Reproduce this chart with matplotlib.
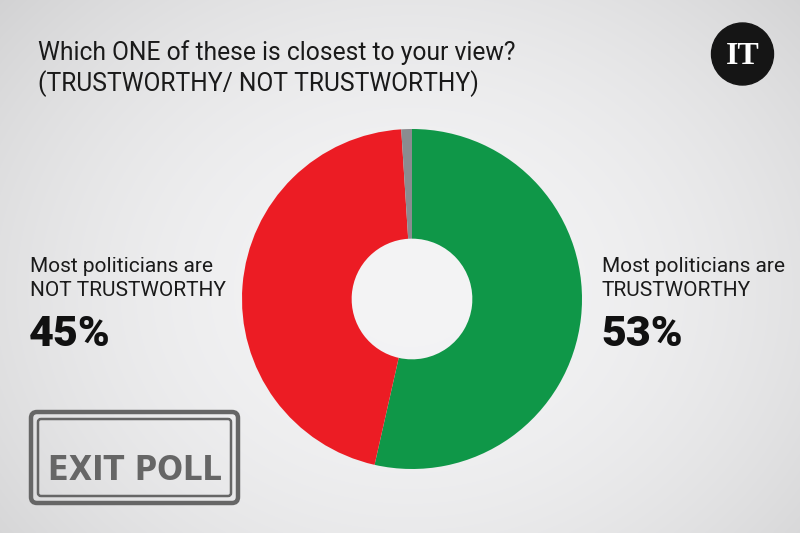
import matplotlib.pyplot as plt
import numpy as np
from matplotlib import font_manager
from matplotlib.font_manager import FontProperties
from matplotlib.patches import Circle, FancyBboxPatch

# poll values, clockwise from 12 o'clock
labels = ['TRUSTWORTHY', 'NOT TRUSTWORTHY', "Don't know"]
values = [53, 45, 1]
colors = ['#0f9748', '#ec1c24', '#8a8c90']

title = 'Which ONE of these is closest to your view?\n(TRUSTWORTHY/ NOT TRUSTWORTHY)'
left_text = 'Most politicians are\nNOT TRUSTWORTHY'
right_text = 'Most politicians are\nTRUSTWORTHY'
left_pct = '45%'
right_pct = '53%'

W, H = 800, 533
fig = plt.figure(figsize=(8, 5.33), dpi=100)

# background axes in pixel coordinates (y down)
bg = fig.add_axes([0, 0, 1, 1])
bg.set_xlim(0, W)
bg.set_ylim(H, 0)
bg.axis('off')

xx, yy = np.meshgrid(np.arange(W), np.arange(H))
r2 = ((xx - 410) / 520.0) ** 2 + ((yy - 290) / 430.0) ** 2
shade = np.clip(0.955 - 0.12 * r2, 0.80, 0.96)
bg.imshow(np.dstack([shade, shade, shade * 1.005]).clip(0, 1),
          extent=(0, W, H, 0), aspect='auto', zorder=0)

# multi-line texts: baseline alignment refers to the last line
font = 'Roboto'
bg.text(38, 91, title, fontsize=17.7, family=font, color='#1a1a1a',
        va='baseline', ha='left', linespacing=1.25)

bg.text(30, 296, left_text, fontsize=15, family=font, color='#1a1a1a',
        va='baseline', ha='left', linespacing=1.3)
bg.text(29, 346, left_pct, fontsize=31, family=font, weight='heavy',
        color='#111111', va='baseline', ha='left')
bg.text(602, 296, right_text, fontsize=15, family=font, color='#1a1a1a',
        va='baseline', ha='left', linespacing=1.3)
bg.text(601, 346, right_pct, fontsize=31, family=font, weight='heavy',
        color='#111111', va='baseline', ha='left')

# IT logo
bg.add_patch(Circle((742.5, 54), 31, color='#151515', zorder=2))
bg.text(742.5, 56, 'IT', fontsize=23, family='Liberation Serif', weight='bold',
        color='white', ha='center', va='center', zorder=3)

# EXIT POLL stamp
stamp = '#666666'
bg.add_patch(FancyBboxPatch((31, 412), 207, 91, boxstyle='round,pad=0,rounding_size=6',
                            fill=False, ec=stamp, lw=3.2, zorder=2))
bg.add_patch(FancyBboxPatch((38, 419), 193, 77, boxstyle='round,pad=0,rounding_size=3',
                            fill=False, ec=stamp, lw=1.8, zorder=2))

# look for a condensed / narrow bold face
prop = FontProperties(family='DejaVu Sans', weight='bold')
for f in font_manager.fontManager.ttflist:
    narrowish = ('Narrow' in f.name or 'Condensed' in f.name
                 or 'ondensed' in str(f.stretch) or 'Condensed' in f.fname)
    if narrowish and (f.weight in ('bold', 'heavy', 'black') or
                      (isinstance(f.weight, int) and f.weight >= 600)):
        prop = FontProperties(fname=f.fname)
        break

stamp_txt = bg.text(135, 480, 'EXIT POLL', fontproperties=prop, fontsize=40,
                    color=stamp, ha='center', va='baseline', zorder=3)
# shrink to fit the stamp width
fig.canvas.draw()
w = stamp_txt.get_window_extent().width
stamp_txt.set_fontsize(min(40, 40 * 174 / w))

# donut
cx, cy, rad = 412, 299, 170
ax = fig.add_axes([(cx - rad) / W, (H - cy - rad) / H, 2 * rad / W, 2 * rad / H])
ax.pie(values, colors=colors, startangle=90, counterclock=False,
       radius=1, wedgeprops=dict(width=0.645, linewidth=0))
ax.set_xlim(-1, 1)
ax.set_ylim(-1, 1)
ax.set_aspect('equal')
ax.axis('off')

fig.savefig('out.png', dpi=100)
